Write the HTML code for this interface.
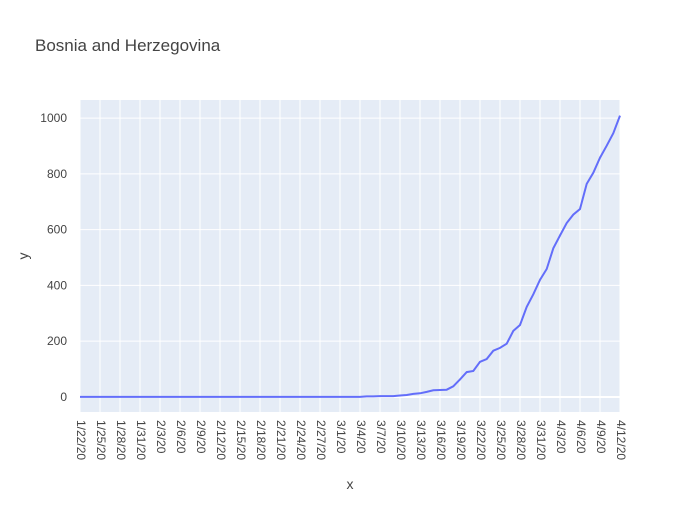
<!DOCTYPE html>
<html><head><meta charset="utf-8"><style>
body{margin:0;background:#fff;font-family:"Liberation Sans",sans-serif}
svg text{font-family:"Liberation Sans",sans-serif;fill:#444}
</style></head><body>
<svg id="chart" width="700" height="500">
<rect width="700" height="500" fill="#fff"/>
<text x="35" y="51" font-size="17">Bosnia and Herzegovina</text>
<rect x="80" y="100" width="540" height="312" fill="#e5ecf6"/>
<g id="grid"></g><g id="xt"></g><g id="yt"></g>
<path id="line" fill="none" stroke="#636efa" stroke-width="2"/>
<text x="350" y="489" font-size="14" text-anchor="middle">x</text>
<text x="28" y="256" font-size="14" text-anchor="middle" transform="rotate(-90 28 256)">y</text>
</svg>
<script>
const startDate = [2020, 0, 22];
const values = [0,0,0,0,0,0,0,0,0,0,0,0,0,0,0,0,0,0,0,0,0,0,0,0,0,0,0,0,0,0,0,0,0,0,0,0,0,0,0,0,0,0,0,
2,2,3,3,3,5,7,11,13,18,24,25,26,38,63,89,93,126,136,166,176,191,237,258,323,368,420,459,533,579,624,654,674,764,804,858,901,946,1009];
const yTicks = [0,200,400,600,800,1000];
const ns="http://www.w3.org/2000/svg";
const X0=80,X1=620,Y0=412,Y1=100,ymin=-54,ymax=1065;
const n=values.length;
const xs=i=>X0+(X1-X0)*i/(n-1);
const ys=v=>Y0-(v-ymin)/(ymax-ymin)*(Y0-Y1);
const grid=document.getElementById('grid'),xt=document.getElementById('xt'),yt=document.getElementById('yt');
function mk(t,a,p){const e=document.createElementNS(ns,t);for(const k in a)e.setAttribute(k,a[k]);p.appendChild(e);return e;}
for(let i=0;i<n;i+=3){
 const x=xs(i);
 const l=mk('line',{x1:x,x2:x,y1:Y1,y2:Y0,stroke:'#fff','stroke-width':1},grid);
 
 
 const d=new Date(startDate[0],startDate[1],startDate[2]+i);
 const lab=(d.getMonth()+1)+'/'+d.getDate()+'/20';
 const t=mk('text',{x:x,y:420,'font-size':12,transform:`rotate(90 ${x} 420)`,'dominant-baseline':'middle'},xt);
 t.textContent=lab;
 
 
}
yTicks.forEach(v=>{
 const y=ys(v);
 const l=mk('line',{x1:X0,x2:X1,y1:y,y2:y,stroke:'#fff','stroke-width':v===0?2:1},grid);
 
 
 const t=mk('text',{x:X0-13,y:y+4,'font-size':12,'text-anchor':'end'},yt);
 t.textContent=v;
 
 
});
document.getElementById('line').setAttribute('d',values.map((v,i)=>(i?'L':'M')+xs(i).toFixed(1)+' '+ys(v).toFixed(1)).join(''));
</script>
</body></html>
